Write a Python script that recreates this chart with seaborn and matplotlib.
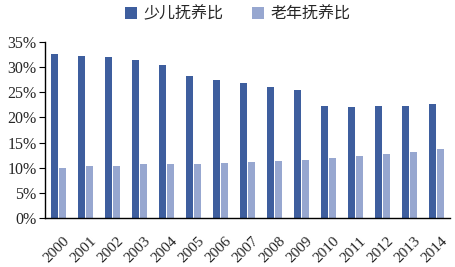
import matplotlib
matplotlib.use("Agg")
import matplotlib.pyplot as plt
import matplotlib.transforms as mtransforms
import seaborn as sns
import pandas as pd
from matplotlib.ticker import FuncFormatter

years = [str(y) for y in range(2000, 2015)]
child_ratio = [32.7, 32.2, 32.1, 31.5, 30.4, 28.2, 27.4, 26.9, 26.1, 25.4, 22.3, 22.1, 22.2, 22.2, 22.6]
old_ratio = [9.9, 10.3, 10.4, 10.7, 10.7, 10.7, 11.0, 11.1, 11.3, 11.6, 11.9, 12.3, 12.7, 13.1, 13.7]
series_names = ["少儿抚养比", "老年抚养比"]
colors = ["#3E5E9E", "#97A7D0"]

df = pd.DataFrame({
    "year": years * 2,
    "value": child_ratio + old_ratio,
    "series": [series_names[0]] * len(years) + [series_names[1]] * len(years),
})

sns.set_style("white")
plt.rcParams['font.family'] = ['Liberation Serif', 'Noto Sans CJK SC', 'DejaVu Sans']

fig = plt.figure(figsize=(4.56, 2.67), dpi=100)
ax = fig.add_axes([45/456, 1 - 218/267, (450 - 45)/456, (218 - 42)/267])

sns.barplot(data=df, x="year", y="value", hue="series", palette=colors,
            width=0.6, gap=0.1, ax=ax, saturation=1, linewidth=0)

ax.set_ylim(0, 35)
ax.set_yticks(range(0, 36, 5))
ax.yaxis.set_major_formatter(FuncFormatter(lambda v, p: f"{int(v)}%"))
ax.set_xlabel("")
ax.set_ylabel("")
ax.set_xlim(-0.5, len(years) - 0.5)

for s in ["top", "right"]:
    ax.spines[s].set_visible(False)
for s in ["left", "bottom"]:
    ax.spines[s].set_color("black")
    ax.spines[s].set_linewidth(1.0)

ax.tick_params(axis="y", labelsize=11.5, length=4, width=0.8, color="black", direction="out", left=True, pad=2)
ax.tick_params(axis="x", labelsize=11, length=0, pad=12)
offset = mtransforms.ScaledTranslation(4/100, 0, fig.dpi_scale_trans)
for lab in ax.get_xticklabels():
    lab.set_rotation(45)
    lab.set_ha("right")
    lab.set_rotation_mode("anchor")
    lab.set_transform(lab.get_transform() + offset)

handles, labels = ax.get_legend_handles_labels()
ax.legend(handles, labels, loc="center", bbox_to_anchor=(0.5 - 10/405, (218 - 14)/176), ncol=2,
          frameon=False, prop={"family": ["Noto Sans CJK SC"], "size": 11.5},
          handlelength=0.75, handleheight=0.75, handletextpad=0.4, columnspacing=1.8,
          borderaxespad=0)

fig.savefig("out.png", dpi=100)
